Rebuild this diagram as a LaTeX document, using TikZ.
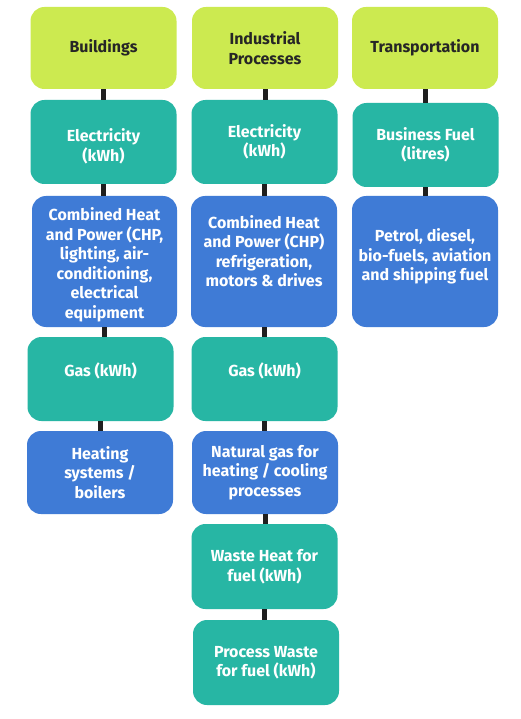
\documentclass[tikz,border=0pt]{standalone}
\usepackage{fontspec}
\setmainfont{Fira Sans}
\definecolor{sectorlime}{HTML}{CCEA50}
\definecolor{sourceteal}{HTML}{27B6A4}
\definecolor{useblue}{HTML}{3F7BD6}
\begin{document}
\begin{tikzpicture}[
    x=1pt,
    y=-1pt,
    font=\fontsize{16}{19.5}\selectfont\bfseries,
    box/.style={rounded corners=14pt, align=center, minimum width=146pt, inner sep=0pt},
    sector/.style={box, fill=sectorlime, text=black!85, minimum height=82pt},
    source/.style={box, fill=sourceteal, text=white, minimum height=84pt},
    usage/.style={box, fill=useblue, text=white, minimum height=83pt},
    link/.style={draw=black!88, line width=5pt}
]
\useasboundingbox[fill=white] (0,0) rectangle (520,719);

% Buildings
\node[sector] (b1) at (103.5,48) {Buildings};
\node[source] (b2) at (103.5,142) {\rule{0pt}{22pt}Electricity\\(kWh)};
\node[usage, minimum width=145pt, minimum height=131pt] (b3) at (104.5,261.5)
    {\rule{0pt}{20pt}Combined Heat\\and Power (CHP,\\lighting, air-\\conditioning,\\electrical\\equipment};
\node[source] (b4) at (100.5,379) {Gas (kWh)\\[-1pt]};
\node[usage] (b5) at (100,472.5) {Heating\\systems /\\boilers};

% Industrial processes
\node[sector] (i1) at (265,48) {Industrial\\Processes};
\node[source] (i2) at (264.5,142) {Electricity\\(kWh)};
\node[usage, minimum height=131pt] (i3) at (264,261.5)
    {Combined Heat\\and Power (CHP)\\refrigeration,\\motors \& drives\\[1pt]};
\node[source] (i4) at (264.5,379) {Gas (kWh)\\[-1pt]};
\node[usage] (i5) at (265,472.5) {Natural gas for\\heating / cooling\\processes};
\node[source, minimum height=85pt] (i6) at (264.5,566.5) {Waste Heat for\\fuel (kWh)};
\node[source, minimum height=85pt] (i7) at (266,662.5) {Process Waste\\for fuel (kWh)};

% Transportation
\node[sector] (t1) at (425,48) {Transportation};
\node[source] (t2) at (425.5,145) {Business Fuel\\(litres)};
\node[usage, minimum height=131pt] (t3) at (425,261.5)
    {Petrol, diesel,\\bio-fuels, aviation\\and shipping fuel\\[-6pt]};

% connectors
\foreach \a/\b in {b1/b2,b2/b3,b3/b4,b4/b5,i1/i2,i2/i3,i3/i4,i4/i5,i5/i6,i6/i7,t1/t2,t2/t3} {
    \draw[link] (\a.south) -- (\a.south |- \b.north);
}
\end{tikzpicture}
\end{document}
